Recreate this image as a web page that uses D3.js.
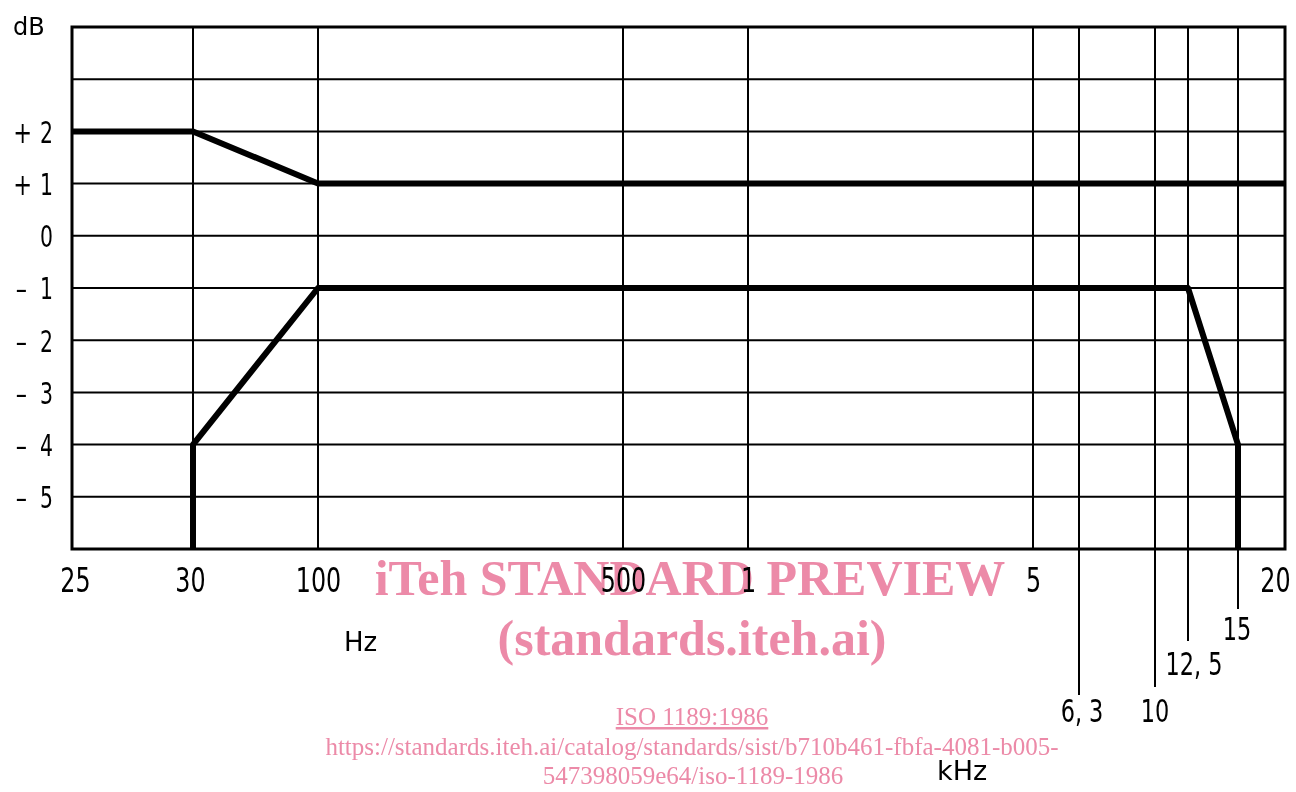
<!DOCTYPE html>
<html><head><meta charset="utf-8">
<script src="https://cdn.jsdelivr.net/npm/d3@7"></script>
<style>
html,body{margin:0;padding:0;background:#fff;}
svg{display:block;}
text{font-family:"DejaVu Sans",sans-serif;fill:#000;}
.wm{font-family:"Liberation Serif","Times New Roman",serif;fill:#ec8aa8;}
</style></head>
<body>
<svg id="c" width="1296" height="792"></svg>
<script>
// ---- data ----
const xBreaks = [25, 30, 100, 500, 1000, 5000, 6300, 10000, 12500, 15000, 20000]; // Hz
const xTickValues = [25, 30, 100, 500, 1000, 5000, 20000];
const xTickLabels = ["25", "30", "100", "500", "1", "5", "20"];
const xExtraTicks = [6300, 10000, 12500, 15000];
const xExtraLabels = ["6, 3", "10", "12, 5", "15"];
const yTickValues = [2, 1, 0, -1, -2, -3, -4, -5];
const yGridValues = [4, 3, 2, 1, 0, -1, -2, -3, -4, -5, -6];
const upperFreq = [25, 30, 100, 20000];
const upperDb = [2, 2, 1, 1];
const lowerFreq = [30, 30, 100, 12500, 15000, 15000];
const lowerDb = [-6, -4, -1, -1, -4, -6];

// ---- layout ----
const svg = d3.select("#c");
const mLeft = 72, mRight = 1285, mTop = 27, mBottom = 549;
// the drawing uses an uneven (not to scale) frequency axis: piecewise positions
const xPos = [72, 193, 318, 623, 748, 1033, 1079, 1155, 1188, 1238, 1285];
const x = d3.scaleLinear().domain(xBreaks).range(xPos);
const y = d3.scaleLinear().domain([-6, 4]).range([mBottom, mTop]);

// narrow the glyphs to imitate the condensed drawing lettering
function squeeze(sel, f) {
  sel.each(function () {
    const L = this.getComputedTextLength();
    d3.select(this).attr("textLength", L * f).attr("lengthAdjust", "spacingAndGlyphs");
  });
}

const g = svg.append("g");

// horizontal grid
g.selectAll("line.h").data(yGridValues).join("line")
  .attr("x1", mLeft).attr("x2", mRight)
  .attr("y1", d => y(d)).attr("y2", d => y(d))
  .attr("stroke", "#000").attr("stroke-width", 2);

// vertical grid
g.selectAll("line.v").data(xBreaks).join("line")
  .attr("x1", d => x(d)).attr("x2", d => x(d))
  .attr("y1", mTop).attr("y2", mBottom)
  .attr("stroke", "#000").attr("stroke-width", 2);

// frame
g.append("rect").attr("x", mLeft).attr("y", mTop)
  .attr("width", mRight - mLeft).attr("height", mBottom - mTop)
  .attr("fill", "none").attr("stroke", "#000").attr("stroke-width", 3);

// y axis labels
const yAxis = d3.axisLeft(y).tickValues(yTickValues).tickSize(0).tickPadding(0)
  .tickFormat(d => String(Math.abs(d)));
const ya = svg.append("g").attr("transform", `translate(${mLeft - 19},0)`).call(yAxis);
ya.select(".domain").remove();
ya.selectAll(".tick text").attr("font-size", 30).attr("font-family", null).attr("dy", "0.36em");
squeeze(ya.selectAll(".tick text"), 0.68);
ya.selectAll(".tick").filter(d => d !== 0).append("text")
  .attr("x", d => d > 0 ? -21 : -26).attr("dy", "0.36em")
  .attr("text-anchor", "end").attr("font-size", 30).attr("fill", "#000")
  .text(d => d > 0 ? "+" : "\u2013");
squeeze(ya.selectAll(".tick text:nth-of-type(2)"), 0.75);

// x axis labels
const xAxis = d3.axisBottom(x).tickValues(xTickValues).tickSize(0).tickPadding(0)
  .tickFormat((d, i) => xTickLabels[i]);
const xa = svg.append("g").attr("transform", `translate(0,${mBottom + 43})`).call(xAxis);
xa.select(".domain").remove();
xa.selectAll("text").attr("font-size", 34).attr("font-family", null).attr("dy", 0);
xa.selectAll(".tick").filter(d => d === 25).select("text").attr("x", 3);
xa.selectAll(".tick").filter(d => d === 30).select("text").attr("x", -3);
xa.selectAll(".tick").filter(d => d === 20000).select("text").attr("x", -10);
squeeze(xa.selectAll("text"), 0.7);

// extra kHz ticks extending below the chart
const extraEnd = [695, 687, 641, 609];
const extraBase = [722, 722, 675, 640];
const extraOff = [3, 0, 6, -1];
svg.append("g").selectAll("line").data(xExtraTicks).join("line")
  .attr("x1", d => x(d)).attr("x2", d => x(d))
  .attr("y1", mBottom).attr("y2", (d, i) => extraEnd[i])
  .attr("stroke", "#000").attr("stroke-width", 2);
const ext = svg.append("g").selectAll("text").data(xExtraTicks).join("text")
  .attr("x", (d, i) => x(d) + extraOff[i]).attr("y", (d, i) => extraBase[i])
  .attr("text-anchor", "middle").attr("font-size", 32)
  .style("white-space", "pre")
  .text((d, i) => xExtraLabels[i]);
squeeze(ext, 0.7);

// unit labels
svg.append("text").attr("x", 13).attr("y", 35).attr("font-size", 24).text("dB");
svg.append("text").attr("x", 344).attr("y", 651).attr("font-size", 26).text("Hz");
svg.append("text").attr("x", 937).attr("y", 780).attr("font-size", 27).text("kHz");

// limit curves
const line = d3.line().x(d => x(d[0])).y(d => y(d[1]));
svg.append("path").datum(d3.zip(upperFreq, upperDb)).attr("d", line)
  .attr("fill", "none").attr("stroke", "#000").attr("stroke-width", 6)
  .attr("stroke-linejoin", "round");
svg.append("path").datum(d3.zip(lowerFreq, lowerDb)).attr("d", line)
  .attr("fill", "none").attr("stroke", "#000").attr("stroke-width", 6)
  .attr("stroke-linejoin", "round");

// watermark
const wm = svg.append("g").style("mix-blend-mode", "multiply");
wm.append("text").attr("class", "wm").attr("x", 690).attr("y", 595)
  .attr("text-anchor", "middle").attr("font-size", 50).attr("font-weight", "bold")
  .text("iTeh STANDARD PREVIEW");
wm.append("text").attr("class", "wm").attr("x", 692).attr("y", 655)
  .attr("text-anchor", "middle").attr("font-size", 50).attr("font-weight", "bold")
  .text("(standards.iteh.ai)");
wm.append("text").attr("class", "wm").attr("x", 692).attr("y", 725)
  .attr("text-anchor", "middle").attr("font-size", 25)
  .attr("text-decoration", "underline")
  .text("ISO 1189:1986");
wm.append("text").attr("class", "wm").attr("x", 692).attr("y", 755)
  .attr("text-anchor", "middle").attr("font-size", 25)
  .text("https://standards.iteh.ai/catalog/standards/sist/b710b461-fbfa-4081-b005-");
wm.append("text").attr("class", "wm").attr("x", 693).attr("y", 784)
  .attr("text-anchor", "middle").attr("font-size", 25)
  .text("547398059e64/iso-1189-1986");
</script>
</body></html>
